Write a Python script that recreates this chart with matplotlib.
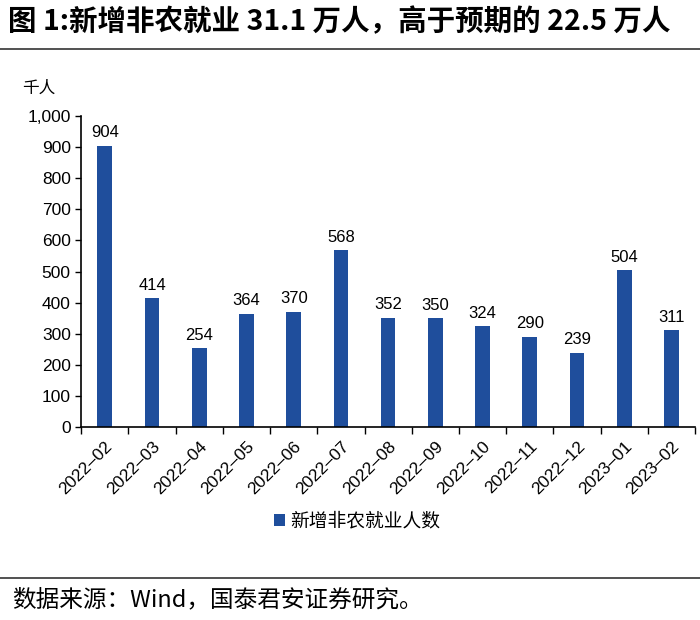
import matplotlib
matplotlib.use("Agg")
import matplotlib.pyplot as plt
import numpy as np

plt.rcParams['font.family'] = ['Noto Sans CJK SC', 'DejaVu Sans']

months = ["2022-02", "2022-03", "2022-04", "2022-05", "2022-06", "2022-07",
          "2022-08", "2022-09", "2022-10", "2022-11", "2022-12", "2023-01", "2023-02"]
payrolls = [904, 414, 254, 364, 370, 568, 352, 350, 324, 290, 239, 504, 311]
yticks = [0, 100, 200, 300, 400, 500, 600, 700, 800, 900, 1000]

bar_color = '#1f4e9c'
latin = ['Liberation Sans', 'DejaVu Sans']

fig = plt.figure(figsize=(7, 6.2), dpi=100)
ax = fig.add_axes([0.116, 0.311, 0.877, 0.502])

x = np.arange(len(months))
bars = ax.bar(x, payrolls, width=0.31, color=bar_color, label='新增非农就业人数')
for xi, v in zip(x, payrolls):
    ax.text(xi, v + 18, str(v), ha='center', va='bottom', fontsize=12, family=latin)

ax.set_xlim(-0.5, len(months) - 0.5)
ax.set_ylim(0, 1000)
ax.set_yticks(yticks)
ax.set_yticklabels([f"{t:,}" for t in yticks], family=latin, fontsize=12.5)
ax.set_xticks(x)
ax.set_xticklabels([m.replace('-', '\u2013') for m in months], rotation=45, ha='right',
                   rotation_mode='anchor', family=latin, fontsize=12.5)
ax.set_xticks(np.arange(len(months) + 1) - 0.5, minor=True)
ax.tick_params(axis='x', which='major', length=0, pad=8)
ax.tick_params(axis='x', which='minor', length=5, direction='out', width=1)
ax.tick_params(axis='y', length=4, direction='out', width=1)
for s in ['top', 'right']:
    ax.spines[s].set_visible(False)
for s in ['left', 'bottom']:
    ax.spines[s].set_linewidth(1.2)

fig.text(0.055, 0.858, '千人', ha='center', va='center', fontsize=12)

fig.legend(handles=[bars], loc='center', bbox_to_anchor=(0.51, 0.16), frameon=False,
           fontsize=13.5, handlelength=0.6, handleheight=0.6, handletextpad=0.3)

fig.text(0.012, 0.965, '图 1:新增非农就业 31.1 万人，高于预期的 22.5 万人', ha='left', va='center',
         fontsize=20.5, fontweight='bold')
fig.add_artist(plt.Line2D([0, 1], [0.921, 0.921], color='#333333', linewidth=1.2,
                          transform=fig.transFigure))
fig.add_artist(plt.Line2D([0, 1], [0.068, 0.068], color='#333333', linewidth=1.2,
                          transform=fig.transFigure))
fig.text(0.018, 0.032, '数据来源：Wind，国泰君安证券研究。', ha='left', va='center', fontsize=17)

fig.savefig('out.png', dpi=100)
